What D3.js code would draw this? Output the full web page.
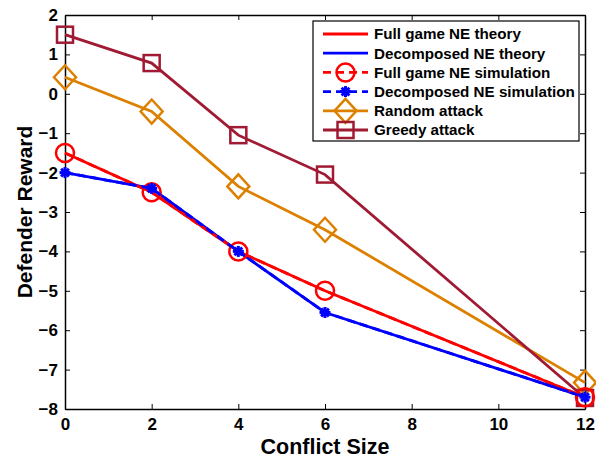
<!DOCTYPE html>
<html lang="en">
<head>
<meta charset="UTF-8">
<title>Defender Reward vs Conflict Size</title>
<style>
  body { margin: 0; background: #fff; }
  svg text { font-family: "Liberation Sans", Arial, sans-serif; font-weight: bold; }
</style>
</head>
<body>
<div id="chart"></div>
<script src="https://d3js.org/d3.v7.min.js"></script>
<script>
const conflictSize = [0, 2, 4, 6, 12];
const fullTheory = [-1.5, -2.5, -4, -5, -7.7];
const decompTheory = [-2, -2.4, -4, -5.55, -7.7];
const fullSim = [-1.5, -2.5, -4, -5, -7.7];
const decompSim = [-2, -2.4, -4, -5.55, -7.7];
const randomAttack = [0.42, -0.45, -2.35, -3.45, -7.33];
const greedyAttack = [1.5, 0.78, -1.05, -2.05, -7.72];
const xTicks = [0, 2, 4, 6, 8, 10, 12];
const yTicks = [-8, -7, -6, -5, -4, -3, -2, -1, 0, 1, 2];

const width = 596, height = 459,
      margin = {top: 15, right: 11, bottom: 50, left: 65};

const svg = d3.select("#chart").append("svg")
  .attr("width", width).attr("height", height);

const x = d3.scaleLinear([0, 12], [margin.left, width - margin.right]);
const y = d3.scaleLinear([-8, 2], [height - margin.bottom, margin.top]);

// axes with inward ticks, box style
svg.append("g")
  .attr("transform", `translate(0,${height - margin.bottom})`)
  .call(d3.axisBottom(x).tickValues(xTicks).tickSize(-5).tickPadding(9).tickSizeOuter(0))
  .call(g => g.selectAll("text").style("font-size", "17px").attr("dy", "0.71em"));
svg.append("g")
  .attr("transform", `translate(0,${margin.top})`)
  .call(d3.axisTop(x).tickValues(xTicks).tickSize(-5).tickFormat("").tickSizeOuter(0));
svg.append("g")
  .attr("transform", `translate(${margin.left},0)`)
  .call(d3.axisLeft(y).tickValues(yTicks).tickSize(-5).tickPadding(7).tickSizeOuter(0)
    .tickFormat(d => d < 0 ? "\u2212" + Math.abs(d) : d))
  .call(g => g.selectAll("text").style("font-size", "17px"));
svg.append("g")
  .attr("transform", `translate(${width - margin.right},0)`)
  .call(d3.axisRight(y).tickValues(yTicks).tickSize(-5).tickFormat("").tickSizeOuter(0));
svg.selectAll(".domain").attr("stroke", "#000").attr("stroke-width", 1.5);
svg.selectAll(".tick line").attr("stroke", "#000");

const line = d3.line().x((d, i) => x(conflictSize[i])).y(d => y(d));

const series = [
  {name: "Full game NE theory", values: fullTheory, color: "#ff0000", dash: null, marker: null},
  {name: "Decomposed NE theory", values: decompTheory, color: "#0000ff", dash: null, marker: null},
  {name: "Full game NE simulation", values: fullSim, color: "#ff0000", dash: "8,5", marker: "circle"},
  {name: "Decomposed NE simulation", values: decompSim, color: "#0000ff", dash: "8,5", marker: "star"},
  {name: "Random attack", values: randomAttack, color: "#dd8000", dash: null, marker: "diamond"},
  {name: "Greedy attack", values: greedyAttack, color: "#a01a33", dash: null, marker: "square"}
];

function drawMarker(g, type, color) {
  if (type === "circle") {
    g.append("circle").attr("r", 9).attr("fill", "none").attr("stroke", color).attr("stroke-width", 2.5);
  } else if (type === "diamond") {
    g.append("path").attr("d", "M0,-12L11,0L0,12L-11,0Z").attr("fill", "none").attr("stroke", color).attr("stroke-width", 2.5);
  } else if (type === "square") {
    g.append("rect").attr("x", -8).attr("y", -8).attr("width", 16).attr("height", 16)
      .attr("fill", "none").attr("stroke", color).attr("stroke-width", 2.5);
  } else if (type === "star") {
    [0, 45, 90, 135].forEach(a => {
      g.append("line").attr("x1", -5.5).attr("x2", 5.5).attr("transform", `rotate(${a})`)
        .attr("stroke", color).attr("stroke-width", 3);
    });
  }
}

const plot = svg.append("g");
// draw order: attacks first, then NE lines on top
[4, 5, 0, 1, 2, 3].forEach(k => {
  const s = series[k];
  plot.append("path").datum(s.values)
    .attr("fill", "none").attr("stroke", s.color).attr("stroke-width", 2.8)
    .attr("stroke-dasharray", s.dash).attr("d", line);
  if (s.marker) {
    s.values.forEach((v, i) => {
      const g = plot.append("g").attr("transform", `translate(${x(conflictSize[i])},${y(v)})`);
      drawMarker(g, s.marker, s.color);
    });
  }
});

// axis labels
svg.append("text")
  .attr("x", (margin.left + width - margin.right) / 2).attr("y", height - 5)
  .attr("text-anchor", "middle").style("font-size", "21.5px")
  .text("Conflict Size");
svg.append("text")
  .attr("transform", `translate(32,${(margin.top + height - margin.bottom) / 2}) rotate(-90)`)
  .attr("text-anchor", "middle").style("font-size", "21px")
  .text("Defender Reward");

// legend
const lg = svg.append("g").attr("transform", "translate(313,21)");
lg.append("rect").attr("width", 266).attr("height", 120)
  .attr("fill", "#fff").attr("stroke", "#000").attr("stroke-width", 1.2);
series.forEach((s, i) => {
  const row = lg.append("g").attr("transform", `translate(0,${13 + i * 19.2})`);
  row.append("line").attr("x1", 10).attr("x2", 55)
    .attr("stroke", s.color).attr("stroke-width", 2.8).attr("stroke-dasharray", s.dash);
  if (s.marker) {
    const m = row.append("g").attr("transform", "translate(32.5,0)");
    drawMarker(m, s.marker, s.color);
  }
  row.append("text").attr("x", 61).attr("dy", "0.35em")
    .style("font-size", "15.2px").text(s.name);
});
</script>
</body>
</html>
